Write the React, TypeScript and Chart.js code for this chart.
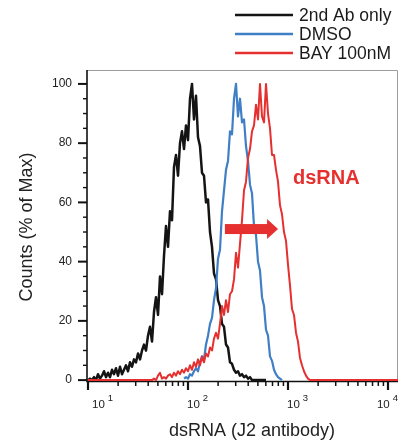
import React, { useEffect, useRef } from "react";
import { Chart, registerables } from "chart.js";

Chart.register(...registerables);

// ---- data (histogram channels, log10 width of one channel) ----
const BIN_STEP = 0.02;
const seriesNames = ["2nd Ab only", "DMSO", "BAY 100nM"];
const seriesColors = ["#141414", "#3f7fc6", "#e6302f"];

const blackStartExp = 1.0;
const blackCounts = [
  0, 0.5, 0, 1, 0, 2, 0.5, 1.5, 3, 1, 2.5, 1, 3.5, 2, 4, 1.5, 4.5, 2, 3.5, 5,
  3, 6, 4.5, 7, 6, 9, 7, 10, 12, 10, 15, 18, 13, 23, 28, 22, 35, 29, 42, 52,
  45, 57, 54, 72, 76, 69, 80, 84, 78, 86, 81, 95, 100, 88, 96, 82, 79, 70, 69, 60,
  61, 50, 45, 36, 34, 27, 25, 19, 18, 12, 11, 6, 5.5, 3.5, 2.5, 3, 1.5, 2, 1, 1.5,
  0.5, 1, 0, 0, 0, 0, 0, 0, 0, 0,
];

const blueStartExp = 1.96;
const blueCounts = [
  0.5, 1, 0.5, 2, 1.5, 3, 4, 3, 6, 8, 7, 12, 15, 19, 21, 27, 31, 41, 44, 57,
  64, 71, 74, 84, 83, 95, 100, 89, 95, 87, 88, 79, 74, 66, 63, 52, 49, 40, 37, 28,
  25, 17, 15, 8, 6.5, 3.5, 2, 1, 0.5, 0,
];

const redStartExp = 1.0;
const redCounts = [
  0, 0, 0, 0, 0, 0, 0, 0, 0, 0, 0, 0, 0, 0, 0, 0, 0, 0, 0, 0,
  0, 0, 0, 0, 0, 0, 0, 0, 0, 0, 0, 0, 0, 0.5, 0, 1.5, 2.5, 0.5, 1, 0.5,
  1.5, 2, 1, 2.5, 1.5, 3, 2, 3.5, 2.5, 4, 3, 5, 3.5, 6, 4.5, 7, 5, 8, 6, 9,
  8, 11, 10, 14, 16, 14, 19, 25, 22, 27, 23, 29, 30, 34, 43, 38, 46, 54, 64, 67,
  75, 78, 84, 86, 93, 88, 100, 89, 87, 100, 90, 85, 76, 76, 71, 67, 59, 56, 50, 47,
  39, 32, 24, 22, 16, 13, 7.5, 5, 3, 1.5, 0.5, 0, 0, 0, 0, 0, 0, 0, 0, 0,
  0, 0, 0, 0, 0, 0, 0, 0, 0, 0, 0, 0, 0, 0, 0, 0, 0, 0, 0, 0,
  0, 0, 0, 0, 0, 0, 0, 0, 0, 0, 0, 0, 0, 0, 0, 0,
];

const yTickValues = [0, 20, 40, 60, 80, 100];
const yTickLabels = ["0", "20", "40", "60", "80", "100"];
const yMinorStep = 5;
const xTickExponents = [1, 2, 3, 4];
const xTickBase = "10";
const xAxisTitle = "dsRNA (J2 antibody)";
const yAxisTitle = "Counts (% of Max)";
const annotationText = "dsRNA";

// ---- helpers ----
const FONT = '"Liberation Sans", Arial, Helvetica, sans-serif';

function toPoints(startExp: number, counts: number[]) {
  return counts.map((c, i) => ({ x: Math.pow(10, startExp + i * BIN_STEP), y: c }));
}

const X_MIN = Math.pow(10, 0.99);
const X_MAX = Math.pow(10, 4.1);

const decorPlugin = {
  id: "decor",
  beforeDatasetsDraw(chart: any) {
    const { ctx, chartArea: a, scales } = chart;
    const xs = scales.x;
    const ys = scales.y;
    ctx.save();
    // top/right frame
    ctx.strokeStyle = "#9c9c9c";
    ctx.lineWidth = 1;
    ctx.beginPath();
    ctx.moveTo(a.left, a.top + 0.5);
    ctx.lineTo(a.right - 0.5, a.top + 0.5);
    ctx.lineTo(a.right - 0.5, a.bottom);
    ctx.stroke();
    // left/bottom axes
    ctx.strokeStyle = "#111";
    ctx.lineWidth = 1.6;
    ctx.beginPath();
    ctx.moveTo(a.left, a.top);
    ctx.lineTo(a.left, a.bottom + 0.5);
    ctx.lineTo(a.right, a.bottom + 0.5);
    ctx.stroke();
    // y ticks
    for (let v = 0; v <= 100; v += yMinorStep) {
      const py = ys.getPixelForValue(v);
      const major = yTickValues.includes(v);
      ctx.lineWidth = major ? 2 : 1.4;
      ctx.beginPath();
      ctx.moveTo(a.left - (major ? 9 : 4), py);
      ctx.lineTo(a.left, py);
      ctx.stroke();
    }
    // x ticks
    for (const e of xTickExponents) {
      for (let m = 1; m <= 9; m++) {
        const v = m * Math.pow(10, e);
        if (v > X_MAX || v < X_MIN) continue;
        const px = xs.getPixelForValue(v);
        const major = m === 1;
        ctx.lineWidth = major ? 2.2 : 1.5;
        ctx.beginPath();
        ctx.moveTo(px, a.bottom);
        ctx.lineTo(px, a.bottom + (major ? 9 : 5));
        ctx.stroke();
      }
    }
    ctx.restore();
  },
  afterDraw(chart: any) {
    const { ctx, chartArea: a, scales } = chart;
    const xs = scales.x;
    const ys = scales.y;
    ctx.save();
    // y tick labels
    ctx.fillStyle = "#222";
    ctx.font = `12px ${FONT}`;
    ctx.textAlign = "right";
    ctx.textBaseline = "middle";
    yTickValues.forEach((v, i) => {
      ctx.fillText(yTickLabels[i], a.left - 15, ys.getPixelForValue(v));
    });
    // x tick labels (10 with superscript exponent)
    ctx.textAlign = "left";
    ctx.textBaseline = "middle";
    for (const e of xTickExponents) {
      const px = xs.getPixelForValue(Math.pow(10, e));
      ctx.font = `11.5px ${FONT}`;
      const wBase = ctx.measureText(xTickBase).width;
      ctx.font = `9.5px ${FONT}`;
      const wExp = ctx.measureText(String(e)).width;
      const total = wBase + 3 + wExp;
      let start = px - 1;
      start = Math.max(start, a.left + 5);
      start = Math.min(start, a.right - total);
      ctx.font = `11.5px ${FONT}`;
      ctx.fillText(xTickBase, start, a.bottom + 24);
      ctx.font = `9.5px ${FONT}`;
      ctx.fillText(String(e), start + wBase + 3, a.bottom + 17);
    }
    // axis titles
    ctx.fillStyle = "#222";
    ctx.font = `18px ${FONT}`;
    ctx.textAlign = "center";
    ctx.textBaseline = "middle";
    ctx.fillText(xAxisTitle, 252, 431);
    ctx.save();
    ctx.translate(27, 227);
    ctx.rotate(-Math.PI / 2);
    ctx.fillText(yAxisTitle, 0, 0);
    ctx.restore();
    // legend
    const legendY = [15, 34, 53];
    ctx.font = `17.5px ${FONT}`;
    ctx.textAlign = "left";
    seriesNames.forEach((name, i) => {
      ctx.strokeStyle = seriesColors[i];
      ctx.lineWidth = 2.6;
      ctx.beginPath();
      ctx.moveTo(235, legendY[i]);
      ctx.lineTo(293, legendY[i]);
      ctx.stroke();
      ctx.fillStyle = "#1a1a1a";
      ctx.fillText(name, 299, legendY[i] + 1);
    });
    // annotation arrow (data coords)
    const red = "#e6302f";
    const x0 = xs.getPixelForValue(234);
    const x1 = xs.getPixelForValue(795);
    const yA = ys.getPixelForValue(51);
    ctx.fillStyle = red;
    ctx.fillRect(x0, yA - 5, x1 - 10 - x0, 10);
    ctx.beginPath();
    ctx.moveTo(x1 - 11, yA - 10);
    ctx.lineTo(x1, yA);
    ctx.lineTo(x1 - 11, yA + 10);
    ctx.closePath();
    ctx.fill();
    // annotation label
    ctx.font = `bold 20px ${FONT}`;
    ctx.textAlign = "left";
    ctx.textBaseline = "middle";
    ctx.fillText(annotationText, xs.getPixelForValue(1120), ys.getPixelForValue(68));
    ctx.restore();
  },
};

export default function App() {
  const ref = useRef<HTMLCanvasElement | null>(null);
  useEffect(() => {
    if (!ref.current) return;
    const chart = new Chart(ref.current, {
      type: "line",
      data: {
        datasets: [
          {
            label: seriesNames[0],
            data: toPoints(blackStartExp, blackCounts),
            borderColor: seriesColors[0],
            borderWidth: 2.5,
            order: 2,
          },
          {
            label: seriesNames[1],
            data: toPoints(blueStartExp, blueCounts),
            borderColor: seriesColors[1],
            borderWidth: 2.2,
            order: 1,
          },
          {
            label: seriesNames[2],
            data: toPoints(redStartExp, redCounts),
            borderColor: seriesColors[2],
            borderWidth: 2,
            order: 0,
          },
        ],
      },
      options: {
        responsive: false,
        animation: false,
        devicePixelRatio: 1,
        parsing: true,
        elements: {
          point: { radius: 0, hoverRadius: 0 },
          line: { tension: 0, borderJoinStyle: "round", fill: false },
        },
        layout: { padding: { left: 87, right: 8, top: 70, bottom: 65 } },
        scales: {
          x: { type: "logarithmic", min: X_MIN, max: X_MAX, display: false },
          y: { type: "linear", min: -0.3, max: 104.7, display: false },
        },
        plugins: {
          legend: { display: false },
          tooltip: { enabled: false },
        },
      },
      plugins: [decorPlugin],
    });
    return () => chart.destroy();
  }, []);
  return (
    <div style={{ position: "fixed", left: 0, top: 0, width: 406, height: 446, background: "#fff" }}>
      <canvas ref={ref} width={406} height={446} style={{ width: 406, height: 446, display: "block" }} />
    </div>
  );
}
